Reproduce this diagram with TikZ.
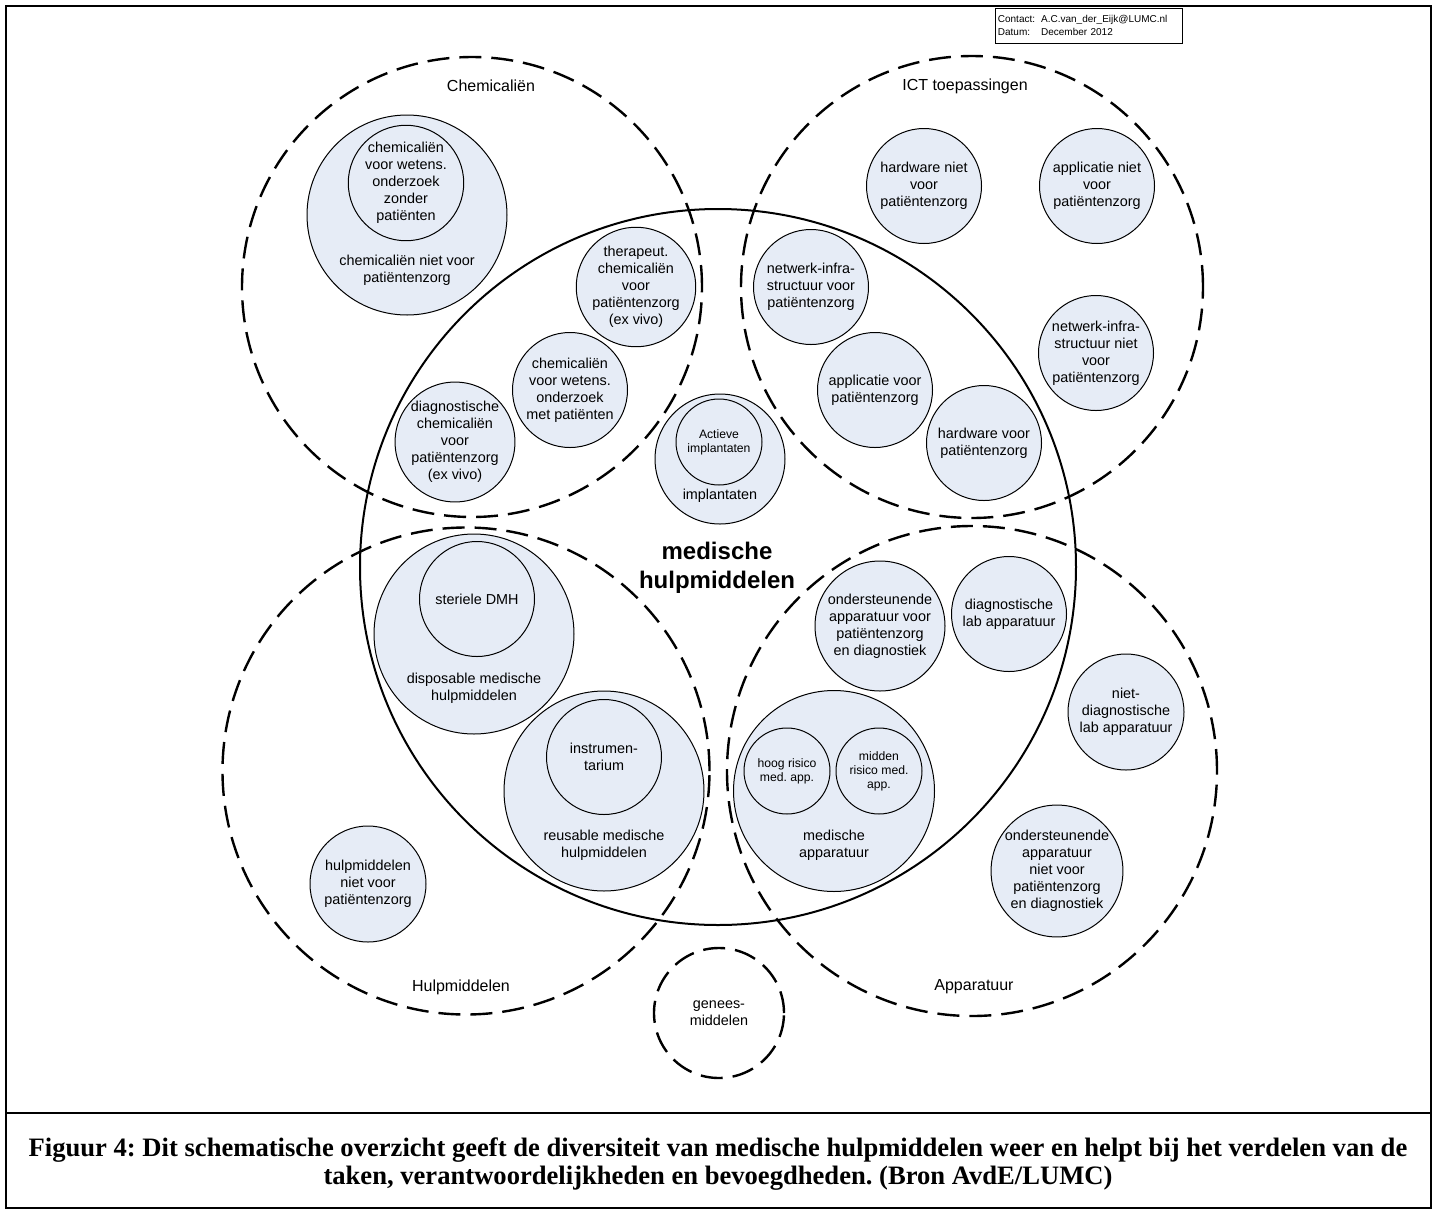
\documentclass[tikz,border=0pt]{standalone}
\usepackage{fontspec}
\setmainfont{Liberation Sans}
\newfontfamily\capfont{Liberation Serif}
\frenchspacing
\definecolor{blobfill}{RGB}{230,236,246}
\tikzset{every node/.style={inner sep=0pt, align=center, font=\fontsize{7.2}{8.5}\selectfont}}
\tikzset{blob/.style={shape=circle, draw=black, fill=blobfill, line width=0.5pt, minimum size=#1*0.5pt}}
\tikzset{zone/.style={shape=circle, draw=black, line width=1.2pt, dash pattern=on 11pt off 5pt, minimum size=#1*0.5pt}}
\tikzset{zonelabel/.style={font=\fontsize{8}{9.6}\selectfont}}
\tikzset{tinytext/.style={font=\fontsize{6.1}{7}\selectfont}}

\begin{document}
\begin{tikzpicture}[x=0.5pt, y=-0.5pt]
  \useasboundingbox (0,0) rectangle (1437,1211);
  \draw[line width=1.3pt] (6,6) rectangle (1431,1208);
  \draw[line width=1.3pt] (6,1113) -- (1431,1113);

  \node (K) [draw=black, line width=0.4pt, anchor=north west, minimum width=93.5pt, minimum height=17.5pt, text width=91pt, inner sep=1pt, align=left, font=\fontsize{5}{6.5}\selectfont] at (995,8)
    {\begin{tabular}{@{}l@{\hspace{3pt}}l@{}}Contact: & A.C.van\_der\_Eijk@LUMC.nl\\Datum: & December 2012\end{tabular}};

  \node (C) [zone=460] at (472,287) {};
  \node (I) [zone=462] at (972,287) {};
  \node (H) [zone=487] at (466,771) {};
  \node (A) [zone=490] at (972,771) {};
  \node (G) [zone=130] at (719,1013) {genees-\\middelen};
  \node (M) [shape=circle, draw=black, line width=1pt, minimum size=716*0.5pt] at (718,567) {};

  \node (Cl) [zonelabel] at (491,86) {Chemicaliën};
  \node (Il) [zonelabel] at (965,86) {ICT toepassingen};
  \node (Hl) [zonelabel] at (461,987) {Hulpmiddelen};
  \node (Al) [zonelabel] at (974,987) {Apparatuur};
  \node (Ml) [font=\bfseries\fontsize{12}{14.5}\selectfont] at (717,568) {medische\\hulpmiddelen};

  \node (C0) [blob=200] at (407,215) {};
  \node (C1) [blob=115] at (406,183) {chemicaliën\\voor wetens.\\onderzoek\\zonder\\patiënten};
  \node (C0t) at (407,270) {chemicaliën niet voor\\patiëntenzorg};
  \node (C2) [blob=115] at (636,287) {therapeut.\\chemicaliën\\voor\\patiëntenzorg\\(ex vivo)};
  \node (C3) [blob=115] at (570,390) {chemicaliën\\voor wetens.\\onderzoek\\met patiënten};
  \node (C4) [blob=115] at (455,442) {diagnostische\\chemicaliën\\voor\\patiëntenzorg\\(ex vivo)};

  \node (I1) [blob=115] at (924,186) {hardware niet\\voor\\patiëntenzorg};
  \node (I2) [blob=115] at (1097,186) {applicatie niet\\voor\\patiëntenzorg};
  \node (I3) [blob=115] at (811,287) {netwerk-infra-\\structuur voor\\patiëntenzorg};
  \node (I4) [blob=115] at (1096,353) {netwerk-infra-\\structuur niet\\voor\\patiëntenzorg};
  \node (I5) [blob=115] at (875,390) {applicatie voor\\patiëntenzorg};
  \node (I6) [blob=115] at (984,443) {hardware voor\\patiëntenzorg};

  \node (P0) [blob=130] at (720,459) {};
  \node (P1) [blob=86, tinytext] at (719,442) {Actieve\\implantaten};
  \node (P0t) at (720,496) {implantaten};

  \node (H0) [blob=200] at (474,634) {};
  \node (H1) [blob=115] at (477,599) {steriele DMH};
  \node (H0t) at (474,688) {disposable medische\\hulpmiddelen};
  \node (H2) [blob=200] at (604,791) {};
  \node (H3) [blob=115] at (604,757) {instrumen-\\tarium};
  \node (H2t) at (604,845) {reusable medische\\hulpmiddelen};
  \node (H4) [blob=116] at (368,884) {hulpmiddelen\\niet voor\\patiëntenzorg};

  \node (A1) [blob=130] at (880,626) {ondersteunende\\apparatuur voor\\patiëntenzorg\\en diagnostiek};
  \node (A2) [blob=115] at (1009,614) {diagnostische\\lab apparatuur};
  \node (A3) [blob=116] at (1126,712) {niet-\\diagnostische\\lab apparatuur};
  \node (A0) [blob=201] at (834,791) {};
  \node (A4) [blob=86, tinytext] at (787,771) {hoog risico\\med. app.};
  \node (A5) [blob=86, tinytext] at (879,771) {midden\\risico med.\\app.};
  \node (A0t) at (834,845) {medische\\apparatuur};
  \node (A6) [blob=130] at (1057,871) {ondersteunende\\apparatuur\\niet voor\\patiëntenzorg\\en diagnostiek};

  \node (cap) [font=\capfont\bfseries\fontsize{13.3}{14}\selectfont] at (718,1164)
    {Figuur 4: Dit schematische overzicht geeft de diversiteit van medische hulpmiddelen weer en helpt bij het verdelen van de\\taken, verantwoordelijkheden en bevoegdheden. (Bron AvdE/LUMC)};
\end{tikzpicture}
\end{document}
